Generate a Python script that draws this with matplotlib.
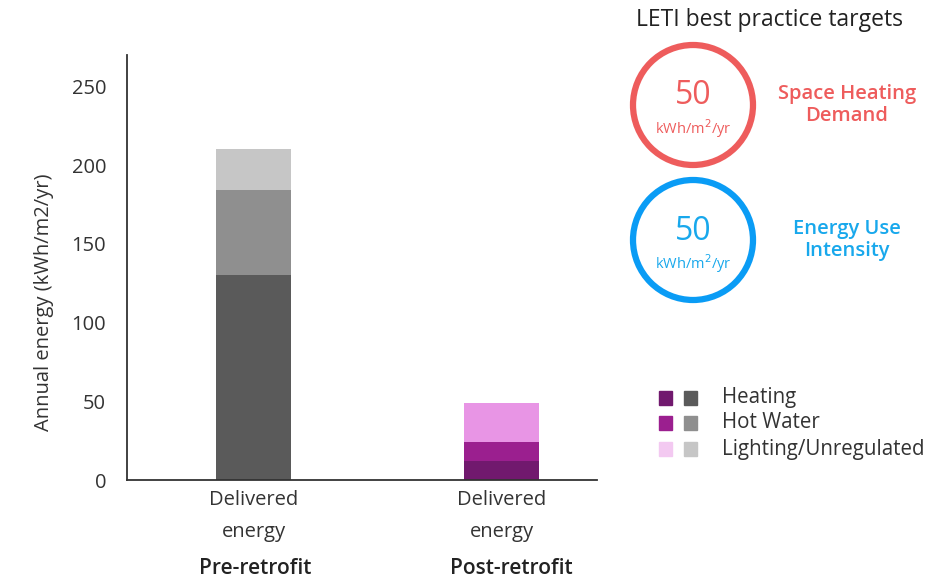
import numpy as np
import matplotlib.pyplot as plt
from matplotlib.patches import Circle, Rectangle

plt.rcParams['font.family'] = ['Open Sans', 'DejaVu Sans']

stages = ["Pre-retrofit", "Post-retrofit"]
tick_labels = ["Delivered\nenergy", "Delivered\nenergy"]
heating = [130, 12]
hot_water = [54, 12]
lighting = [26, 25]
y_ticks = [0, 50, 100, 150, 200, 250]
series_names = ["Heating", "Hot Water", "Lighting/Unregulated"]

grey_cols = ["#5a5a5a", "#8f8f8f", "#c6c6c6"]
purple_cols = ["#71196e", "#9b1f8f", "#e895e5"]
legend_purple = ["#71196e", "#9b1f8f", "#f3c9f1"]

targets = [("50", "kWh/m$^2$/yr", "Space Heating\nDemand", "#ee5c5c", "#ee5c5c"),
           ("50", "kWh/m$^2$/yr", "Energy Use\nIntensity", "#0a9cf5", "#18a8ec")]

W, H = 943, 583
fig = plt.figure(figsize=(W / 100, H / 100), dpi=100)
ax = fig.add_axes([127 / W, 1 - 480 / H, (597 - 127) / W, (480 - 55) / H])

x = np.arange(len(stages))
bw = 0.30
for i in range(len(stages)):
    cols = grey_cols if i == 0 else purple_cols
    ax.bar(x[i], heating[i], bw, color=cols[0])
    ax.bar(x[i], hot_water[i], bw, bottom=heating[i], color=cols[1])
    ax.bar(x[i], lighting[i], bw, bottom=heating[i] + hot_water[i], color=cols[2])

ax.set_xlim(-0.51, 1.385)
ax.set_ylim(0, 270)
ax.set_yticks(y_ticks)
ax.set_yticklabels([str(v) for v in y_ticks], fontsize=14.5, color="#333333")
ax.set_xticks(x)
ax.set_xticklabels(tick_labels, fontsize=14.5, color="#333333", linespacing=1.85)
ax.tick_params(axis="both", length=0)
ax.tick_params(axis="y", pad=15)
ax.tick_params(axis="x", pad=7)
for s in ["top", "right"]:
    ax.spines[s].set_visible(False)
for s in ["left", "bottom"]:
    ax.spines[s].set_color("#333333")
    ax.spines[s].set_linewidth(1.3)
ax.set_ylabel("Annual energy (kWh/m2/yr)", fontsize=14.5, color="#333333")
ax.yaxis.set_label_coords(-0.155, 0.419)

# overlay in pixel coordinates for annotations
ov = fig.add_axes([0, 0, 1, 1])
ov.set_xlim(0, W)
ov.set_ylim(H, 0)
ov.axis("off")

for i, name in enumerate(stages):
    ov.text(255.5 + 255.5 * i, 569, name, fontsize=15, fontweight="semibold",
            ha="center", va="center", color="#222222")

ov.text(770, 20, "LETI best practice targets", fontsize=16.5, ha="center",
        va="center", color="#222222", fontweight="medium")

centers = [105, 240]
for cy, (num, unit, label, col, tcol) in zip(centers, targets):
    ov.add_patch(Circle((693, cy), 60, fill=False, edgecolor=col, linewidth=4.5))
    ov.text(693, cy - 9, num, fontsize=23, ha="center", va="center", color=tcol)
    ov.text(693, cy + 24, unit, fontsize=10.5, ha="center", va="center", color=tcol)
    ov.text(847, cy, label, fontsize=14.5, ha="center", va="center",
            color=tcol, linespacing=1.1, fontweight="semibold")

rows = [398, 423, 449]
for ry, name, pc, gc in zip(rows, series_names, legend_purple, grey_cols):
    ov.add_patch(Rectangle((659, ry - 7), 13, 14, color=pc))
    ov.add_patch(Rectangle((684, ry - 7), 13, 14, color=gc))
    ov.text(722, ry, name, fontsize=14.8, ha="left", va="center", color="#333333")

fig.savefig("out.png", dpi=100)
